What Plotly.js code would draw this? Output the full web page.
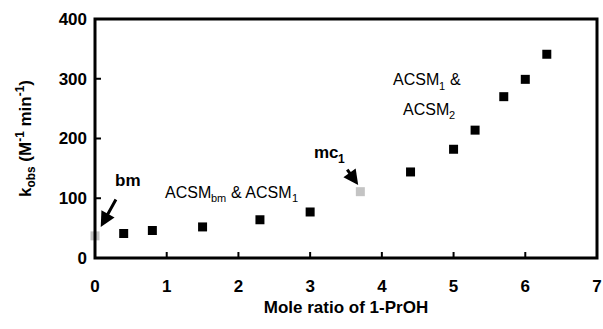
<!DOCTYPE html>
<html>
<head>
<meta charset="utf-8">
<script src="https://cdn.plot.ly/plotly-3.0.1.min.js"></script>
<style>
  html, body { margin: 0; padding: 0; background: #fff; }
  #chart { width: 603px; height: 329px; }
  .modebar-container, .modebar { display: none !important; }
</style>
</head>
<body>
<div id="chart"></div>
<script>
// Rate constants versus mole ratio of 1-PrOH
const moleRatio = [0.4, 0.8, 1.5, 2.3, 3.0, 4.4, 5.0, 5.3, 5.7, 6.0, 6.3];
const kObs = [41, 46, 52, 64, 77, 144, 182, 214, 270, 299, 341];

// Highlighted points: bm and mc1
const bmRatio = [0];
const bmK = [37];
const mc1Ratio = [3.7];
const mc1K = [111];

const xTicks = [0, 1, 2, 3, 4, 5, 6, 7];
const yTicks = [0, 100, 200, 300, 400];

const FONT = 'Arial, "Liberation Sans", sans-serif';
const BOLD = (size) => ({ family: FONT, size: size, color: '#000', weight: 'bold' });
const PLAIN = (size) => ({ family: FONT, size: size, color: '#000' });

const traces = [
  { x: moleRatio, y: kObs, type: 'scatter', mode: 'markers',
    marker: { symbol: 'square', size: 9, color: '#000' }, cliponaxis: false },
  { x: bmRatio, y: bmK, type: 'scatter', mode: 'markers',
    marker: { symbol: 'square', size: 9, color: '#c4c4c4' }, cliponaxis: false },
  { x: mc1Ratio, y: mc1K, type: 'scatter', mode: 'markers',
    marker: { symbol: 'square', size: 9, color: '#c4c4c4' }, cliponaxis: false }
];

function axis(extra) {
  return Object.assign({
    showline: false, ticks: '', showgrid: false, zeroline: false,
    tickfont: BOLD(17)
  }, extra);
}

// Plot frame and inward tick marks, placed on the axis scales
const shapes = [
  { type: 'rect', xref: 'paper', yref: 'paper', x0: 0, x1: 1, y0: 0, y1: 1,
    line: { color: '#000', width: 3 }, layer: 'above' }
];
xTicks.forEach(function (v) {
  shapes.push({ type: 'line', xref: 'x', yref: 'y', ysizemode: 'pixel', yanchor: 0,
    x0: v, x1: v, y0: 0, y1: 6, line: { color: '#000', width: 2 }, layer: 'above' });
});
yTicks.forEach(function (v) {
  shapes.push({ type: 'line', xref: 'x', yref: 'y', xsizemode: 'pixel', xanchor: 0,
    x0: 0, x1: 6, y0: v, y1: v, line: { color: '#000', width: 2 }, layer: 'above' });
});

// Label pieces: main text plus smaller lowered subscripts, laid out left to right
function piece(x, y, text, shift, font, sub) {
  return { x: x, y: y, xref: 'x', yref: 'y', xanchor: 'left', yanchor: 'middle',
    xshift: shift, yshift: sub ? -6 : 0, text: text, showarrow: false, font: font };
}

const annotations = [
  { x: bmRatio[0] + 0.08, y: 52, xref: 'x', yref: 'y', text: '',
    showarrow: true, arrowhead: 2, arrowsize: 1, arrowwidth: 3, arrowcolor: '#000', ax: 16, ay: -29 },
  { x: 0.46, y: 129, xref: 'x', yref: 'y', text: 'bm', showarrow: false, font: BOLD(17) },
  { x: mc1Ratio[0] - 0.03, y: 122, xref: 'x', yref: 'y', text: '',
    showarrow: true, arrowhead: 2, arrowsize: 1, arrowwidth: 3, arrowcolor: '#000', ax: -12, ay: -17 },

  // mc1
  piece(3.02, 176, 'mc', 0, BOLD(17), false),
  piece(3.02, 176, '1', 24.6, BOLD(12), true),

  // ACSMbm & ACSM1
  piece(0.95, 110, 'ACSM', 0, PLAIN(16), false),
  piece(0.95, 110, 'bm', 46.2, PLAIN(11), true),
  piece(0.95, 110, '&amp; ACSM', 65.9, PLAIN(16), false),
  piece(0.95, 110, '1', 127.2, PLAIN(11), true),

  // ACSM1 &
  piece(4.13, 298, 'ACSM', 0, PLAIN(16), false),
  piece(4.13, 298, '1', 46.2, PLAIN(11), true),
  piece(4.13, 298, '&amp;', 56.7, PLAIN(16), false),

  // ACSM2
  piece(4.27, 249, 'ACSM', 0, PLAIN(16), false),
  piece(4.27, 249, '2', 46.2, PLAIN(11), true)
];

const layout = {
  width: 603, height: 329,
  margin: { l: 95, r: 6, t: 19, b: 71 },
  paper_bgcolor: '#fff', plot_bgcolor: '#fff',
  showlegend: false,
  font: { family: FONT, color: '#000' },
  xaxis: axis({
    range: [0, 7], tickvals: xTicks, ticktext: xTicks.map(String),
    ticklabelstandoff: 16,
    title: { text: 'Mole ratio of 1-PrOH', standoff: 6, font: BOLD(17) }
  }),
  yaxis: axis({
    range: [0, 400], tickvals: yTicks, ticktext: yTicks.map(String),
    ticklabelstandoff: 7,
    title: { text: 'k<sub>obs</sub> (M<sup>-1</sup> min<sup>-1</sup>)', standoff: 22, font: BOLD(17) }
  }),
  shapes: shapes,
  annotations: annotations
};

Plotly.newPlot('chart', traces, layout);
</script>
</body>
</html>
